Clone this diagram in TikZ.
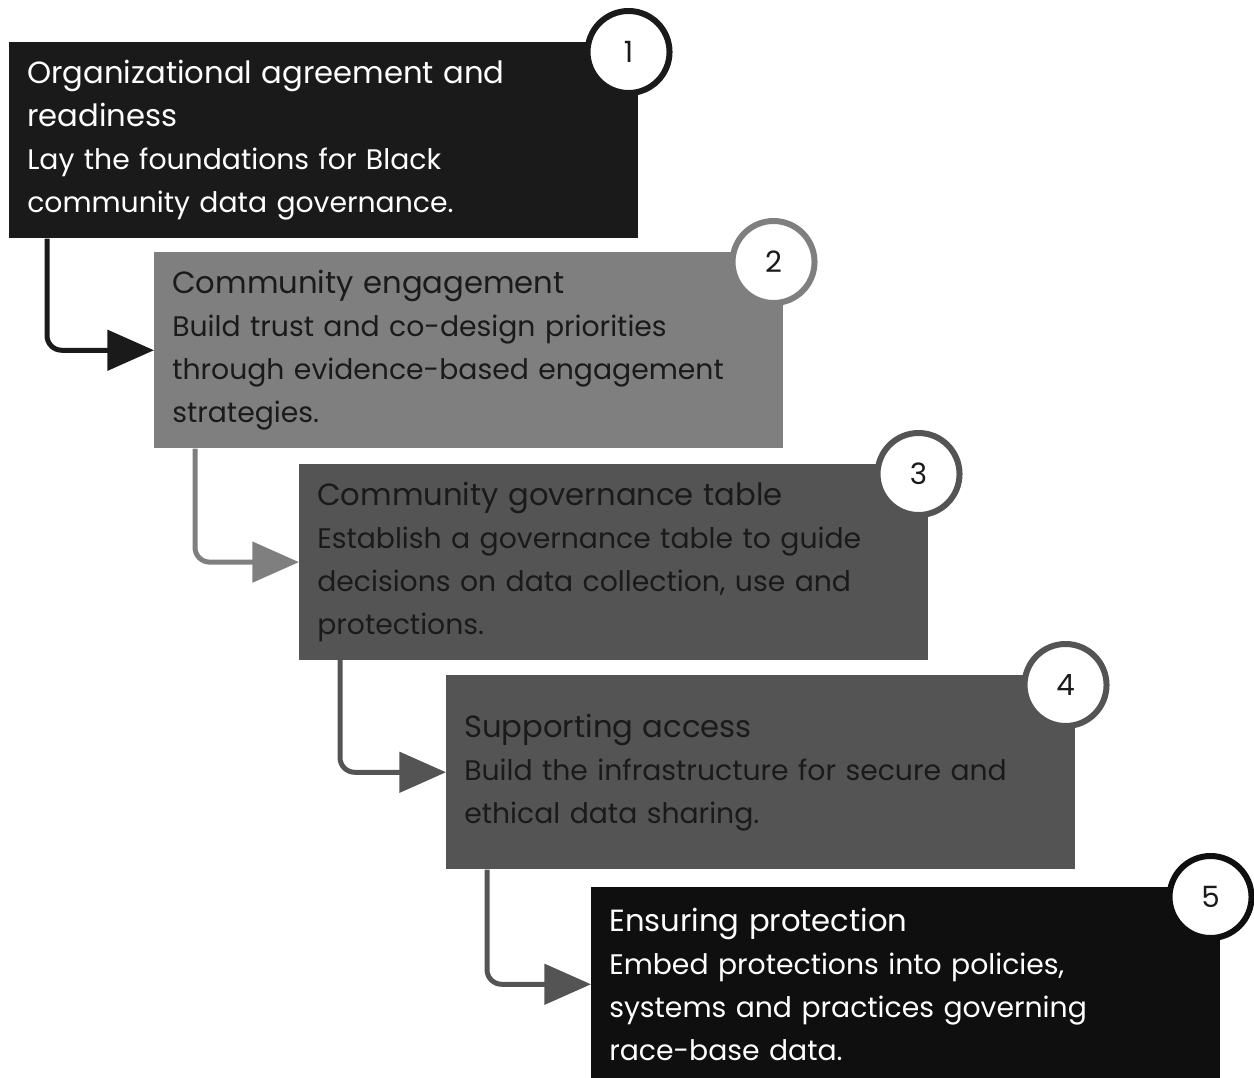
\documentclass[tikz,border=0pt]{standalone}
\usepackage{fontspec}
\setmainfont{Poppins}
\usetikzlibrary{arrows.meta,calc}

\definecolor{inkA}{HTML}{1A1A1A}
\definecolor{inkB}{HTML}{7F7F7F}
\definecolor{inkC}{HTML}{545454}
\definecolor{inkE}{HTML}{0F0F0F}
\newcommand{\steptitle}[1]{{\fontsize{23pt}{32.25pt}\selectfont #1}}

\begin{document}
\begin{tikzpicture}[x=0.75pt,y=-0.75pt,
    stage/.style={anchor=north west,minimum width=471.75pt,minimum height=145.5pt,
        inner sep=13.5pt,text width=444.75pt,align=left,
        font=\fontsize{21.2pt}{32.25pt}\selectfont},
    badge/.style={circle,fill=white,line width=4.5pt,minimum size=61.5pt,inner sep=0pt,
        text=inkA,font=\fontsize{22pt}{22pt}\selectfont},
    flow/.style={line width=3.75pt,rounded corners=11pt,-{Triangle[length=35pt,width=30pt]}}]
    \useasboundingbox (0,0) rectangle (1254,1078);

    % readiness
    \node[stage,fill=inkA,text=white] (b1) at (9,42)
        {\steptitle{Organizational agreement and}\\\steptitle{readiness}\\Lay the foundations for Black\\community data governance.};
    \node[badge,draw=inkA] (c1) at ($(b1.north east)+(-10,10)$) {1};

    % engagement
    \node[stage,fill=inkB,text=inkA] (b2) at (9+145,42+210)
        {\steptitle{Community engagement}\\Build trust and co-design priorities\\through evidence-based engagement\\strategies.};
    \node[badge,draw=inkB] (c2) at ($(b2.north east)+(-10,10)$) {2};

    % governance table
    \node[stage,fill=inkC,text=inkA] (b3) at (9+290,42+422)
        {\steptitle{Community governance table}\\Establish a governance table to guide\\decisions on data collection, use and\\protections.};
    \node[badge,draw=inkC] (c3) at ($(b3.north east)+(-10,10)$) {3};

    % access
    \node[stage,fill=inkC,text=inkA] (b4) at (9+437,42+633)
        {\steptitle{Supporting access}\\Build the infrastructure for secure and\\ethical data sharing.};
    \node[badge,draw=inkC] (c4) at ($(b4.north east)+(-10,10)$) {4};

    % protection
    \node[stage,fill=inkE,text=white] (b5) at (9+582,42+845)
        {\steptitle{Ensuring protection}\\Embed protections into policies,\\systems and practices governing\\race-base data.};
    \node[badge,draw=inkE] (c5) at ($(b5.north east)+(-10,10)$) {5};

    % steps
    \draw[flow,draw=inkA] (b1.south west) ++(38,0) |- (b2.west);
    \draw[flow,draw=inkB] (b2.south west) ++(41,0) |- (b3.west);
    \draw[flow,draw=inkC] (b3.south west) ++(41,0) |- (b4.west);
    \draw[flow,draw=inkC] (b4.south west) ++(41,0) |- (b5.west);
\end{tikzpicture}
\end{document}
